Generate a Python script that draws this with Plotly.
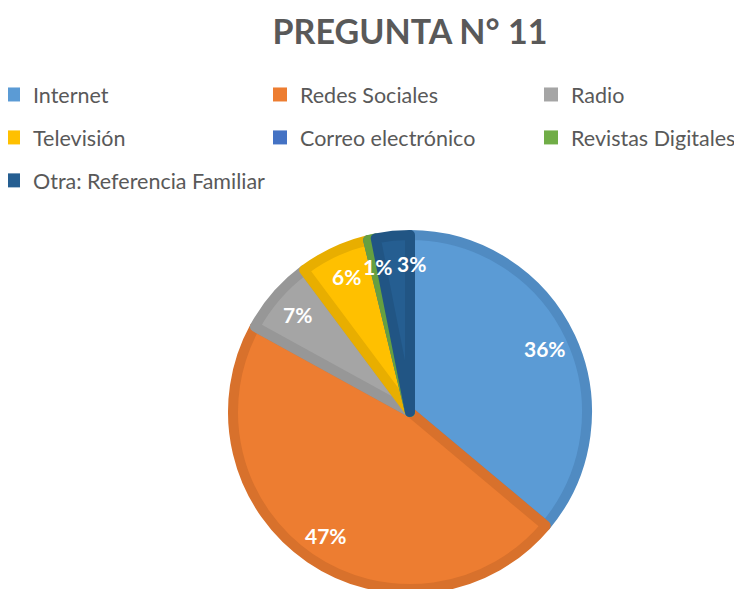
import math

import plotly.graph_objects as go

# Pregunta 11 - medio por el que se enteró
labels = [
    "Internet",
    "Redes Sociales",
    "Radio",
    "Televisión",
    "Correo electrónico",
    "Revistas Digitales",
    "Otra: Referencia Familiar",
]
values = [36.1, 46.9, 6.8, 6.4, 0.0, 0.7, 3.1]
fill_colors = ["#5B9BD5", "#ED7D31", "#A5A5A5", "#FFC000", "#4472C4", "#70AD47", "#255E91"]
edge_colors = ["#508BC2", "#D8712C", "#979797", "#E8AE00", "#3E67B2", "#66A040", "#215584"]
# legend columns, as laid out in the original (Excel) chart
legend_column = [1, 2, 3, 1, 2, 3, 1]
label_anchor = ["center", "center", "center", "center", "center", "center", "left"]

W, H = 742, 589
# the page body adds an 8px margin, so figure coords sit 8px up/left of the screenshot
cx, cy, r = 402, 404, 177

fig = go.Figure()
fig.add_trace(go.Pie(
    labels=labels,
    values=values,
    sort=False,
    direction="clockwise",
    rotation=0,
    marker=dict(colors=fill_colors, line=dict(color=edge_colors, width=10)),
    textinfo="none",
    hoverinfo="label+percent",
    showlegend=False,
    domain=dict(x=[(cx - r) / W, (cx + r) / W], y=[(H - cy - r) / H, (H - cy + r) / H]),
))

# legend entries, three columns like the Excel legend
for name, color, col in zip(labels, fill_colors, legend_column):
    fig.add_trace(go.Scatter(
        x=[None], y=[None], mode="markers", name=name,
        marker=dict(symbol="square", size=14, color=color, line=dict(width=0)),
        legend="legend" if col == 1 else f"legend{col}",
        legendgroup=name,
        hoverinfo="skip",
    ))

# percent labels at the middle of each slice
total = sum(values)
start = 0.0
annotations = []
for v, anchor in zip(values, label_anchor):
    mid = (start + v / 2) / total * 2 * math.pi
    start += v
    if v <= 0:
        continue
    rr = 0.82 * (r + 5)
    annotations.append(dict(
        x=(cx + rr * math.sin(mid)) / W, y=(H - cy + rr * math.cos(mid)) / H,
        xref="paper", yref="paper", xanchor=anchor, yanchor="middle",
        text=f"<b>{round(v / total * 100)}%</b>", showarrow=False,
        font=dict(family="Lato", size=21, color="white"),
    ))

legend_style = dict(
    orientation="v",
    yanchor="top", y=1 - 66 / H,
    xanchor="left",
    font=dict(family="Lato", size=21.5, color="#595959"),
    tracegroupgap=12,
    traceorder="grouped",
    bgcolor="rgba(0,0,0,0)",
)

fig.update_layout(
    width=W,
    height=H,
    margin=dict(l=0, r=0, t=0, b=0, autoexpand=False),
    paper_bgcolor="white",
    plot_bgcolor="white",
    font=dict(family="Lato", color="#595959"),
    title=dict(
        text="<b>PREGUNTA N° 11</b>",
        x=cx / W, xanchor="center",
        y=1 - 24 / H, yanchor="middle", yref="container",
        font=dict(family="Lato", size=34, color="#595959"),
    ),
    legend=dict(legend_style, x=-15 / W),
    legend2=dict(legend_style, x=252 / W),
    legend3=dict(legend_style, x=523 / W),
    xaxis=dict(visible=False),
    yaxis=dict(visible=False),
    annotations=annotations,
)

fig.write_html("out.html")
